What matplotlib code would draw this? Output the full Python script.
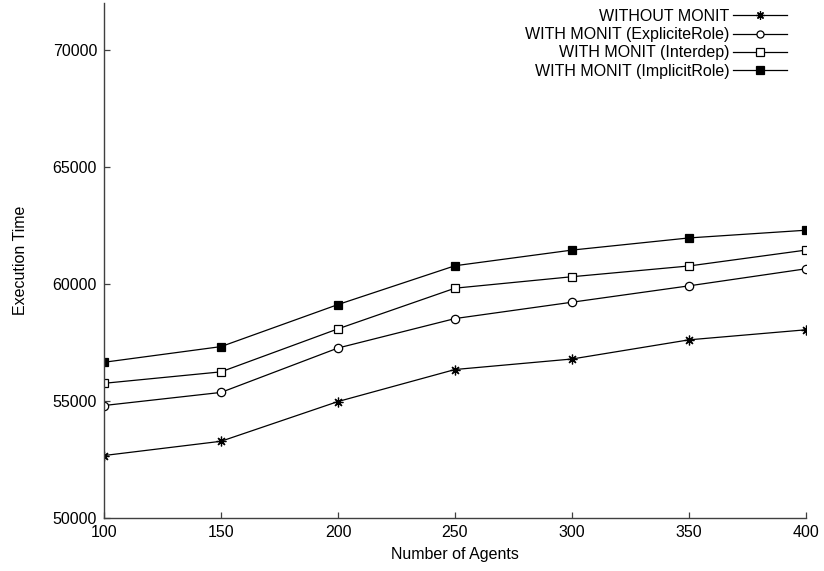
import matplotlib
matplotlib.use("Agg")
import matplotlib.pyplot as plt

agents = [100, 150, 200, 250, 300, 350, 400]
without_monit = [52660, 53270, 54970, 56340, 56790, 57610, 58040]
explicit_role = [54800, 55360, 57260, 58520, 59220, 59920, 60650]
interdep = [55750, 56240, 58080, 59820, 60310, 60770, 61450]
implicit_role = [56650, 57320, 59120, 60780, 61450, 61970, 62300]

labels = ["WITHOUT MONIT", "WITH MONIT (ExpliciteRole)",
          "WITH MONIT (Interdep)", "WITH MONIT (ImplicitRole)"]
xticks = [100, 150, 200, 250, 300, 350, 400]
yticks = [50000, 55000, 60000, 65000, 70000]

plt.rcParams['font.family'] = ['Liberation Sans', 'DejaVu Sans']

fig = plt.figure(figsize=(8.24, 5.71), dpi=100)
ax = fig.add_axes([104/824, 1-517.7/571, (806-104)/824, (517.7-3.5)/571])

lw = 0.9
ax.plot(agents, without_monit, color='black', lw=lw, marker=(8, 2, 0), ms=7,
        mew=0.9, label=labels[0])
ax.plot(agents, explicit_role, color='black', lw=lw, marker='o', ms=6,
        mfc='white', mew=0.9, label=labels[1])
ax.plot(agents, interdep, color='black', lw=lw, marker='s', ms=6,
        mfc='white', mew=0.9, label=labels[2])
ax.plot(agents, implicit_role, color='black', lw=lw, marker='s', ms=6,
        mfc='black', mew=0.9, label=labels[3])

ax.set_xlim(100, 400)
ax.set_ylim(50000, 72000)
ax.set_xticks(xticks)
ax.set_yticks(yticks)
ax.tick_params(direction='in', length=4.5, width=0.9, color='#404040',
               labelsize=11.5, pad=5)
for s in ['top', 'right']:
    ax.spines[s].set_visible(False)
for s in ['left', 'bottom']:
    ax.spines[s].set_color('#404040')
    ax.spines[s].set_linewidth(1.0)

ax.set_xlabel("Number of Agents", fontsize=11.5, labelpad=5)
ax.set_ylabel("Execution Time", fontsize=11.5, labelpad=18)

leg = ax.legend(loc='upper right', bbox_to_anchor=(0.9886, 1.011), frameon=False,
                markerfirst=False, fontsize=11.5, handlelength=3.4,
                handletextpad=0.2, labelspacing=0.2, borderaxespad=0.3,
                markerscale=0.85)

fig.savefig("out.png", dpi=100)
